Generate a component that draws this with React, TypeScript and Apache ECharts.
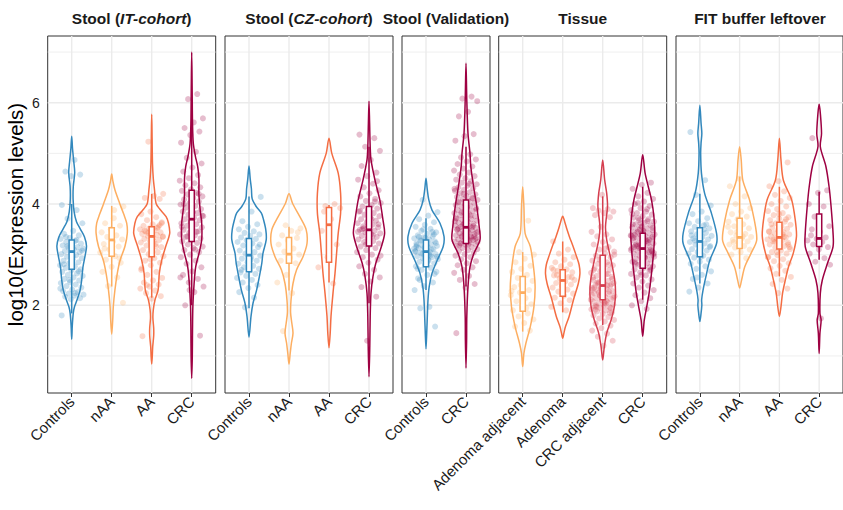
import React, { useEffect, useRef } from "react";
import * as echarts from "echarts";

// ---------- colours ----------
const BLUE = "#3288BD";
const LORANGE = "#FDAE61";
const ORANGE = "#F46D43";
const RED = "#D53E4F";
const CRIMSON = "#9E0142";

// ---------- categories ----------
const catsIT = ["Controls", "nAA", "AA", "CRC"];
const catsCZ = ["Controls", "nAA", "AA", "CRC"];
const catsVal = ["Controls", "CRC"];
const catsTissue = ["Adenoma adjacent", "Adenoma", "CRC adjacent", "CRC"];
const catsFIT = ["Controls", "nAA", "AA", "CRC"];

// ---------- y ticks ----------
const yTicks = [2, 4, 6];
const yMinor = [1, 3, 5, 7];

// ---------- violin profiles: [value, half-width (category units)] ----------
const vIT_Controls = [[1.33,0],[1.6,0.015],[1.85,0.04],[1.97,0.07],[2.1,0.13],[2.3,0.21],[2.5,0.25],[2.75,0.28],[3.0,0.34],[3.17,0.37],[3.35,0.32],[3.5,0.22],[3.65,0.12],[3.85,0.06],[4.1,0.035],[4.35,0.04],[4.62,0.075],[4.85,0.05],[5.1,0.02],[5.34,0]];
const vIT_nAA = [[1.43,0],[1.7,0.025],[1.97,0.04],[2.3,0.08],[2.63,0.14],[2.89,0.21],[3.16,0.33],[3.42,0.39],[3.62,0.375],[3.8,0.3],[4.01,0.2],[4.28,0.08],[4.45,0.03],[4.59,0]];
const vIT_AA = [[0.84,0],[1.0,0.015],[1.18,0.025],[1.4,0.05],[1.55,0.05],[1.75,0.03],[1.91,0.04],[2.1,0.08],[2.3,0.16],[2.63,0.19],[2.89,0.25],[3.16,0.35],[3.42,0.45],[3.62,0.42],[3.75,0.36],[3.9,0.2],[4.01,0.11],[4.28,0.07],[4.5,0.04],[4.8,0.02],[5.3,0.01],[5.77,0]];
const vIT_CRC = [[0.56,0],[1.0,0.015],[1.5,0.02],[2.0,0.03],[2.43,0.06],[2.76,0.1],[3.05,0.19],[3.3,0.25],[3.62,0.25],[3.9,0.21],[4.2,0.18],[4.5,0.18],[4.74,0.15],[4.95,0.09],[5.2,0.04],[5.6,0.02],[6.2,0.012],[7.0,0]];

const vCZ_Controls = [[1.37,0],[1.78,0.05],[2.04,0.1],[2.3,0.19],[2.57,0.26],[2.83,0.32],[3.03,0.35],[3.29,0.43],[3.49,0.42],[3.7,0.36],[3.82,0.31],[3.95,0.18],[4.1,0.08],[4.3,0.06],[4.5,0.03],[4.75,0]];
const vCZ_nAA = [[0.84,0],[1.05,0.03],[1.25,0.06],[1.45,0.1],[1.65,0.07],[1.85,0.04],[2.1,0.05],[2.43,0.1],[2.7,0.19],[2.96,0.35],[3.22,0.45],[3.49,0.43],[3.75,0.27],[4.01,0.09],[4.2,0]];
const vCZ_AA = [[1.16,0],[1.45,0.03],[1.78,0.05],[2.24,0.1],[2.63,0.15],[3.03,0.19],[3.42,0.23],[3.82,0.29],[4.21,0.29],[4.61,0.23],[5.0,0.07],[5.3,0]];
const vCZ_CRC = [[0.59,0],[1.2,0.02],[1.78,0.03],[2.24,0.05],[2.57,0.1],[2.83,0.17],[3.16,0.31],[3.42,0.39],[3.68,0.35],[4.08,0.27],[4.47,0.15],[4.87,0.05],[5.13,0.03],[5.6,0.015],[6.03,0]];

const vVal_Controls = [[1.14,0],[1.5,0.02],[1.71,0.03],[2.11,0.05],[2.37,0.08],[2.63,0.15],[2.89,0.28],[3.16,0.43],[3.36,0.45],[3.62,0.35],[3.88,0.15],[4.08,0.07],[4.3,0.03],[4.51,0]];
const vVal_CRC = [[0.76,0],[1.3,0.015],[1.78,0.02],[2.37,0.05],[2.76,0.1],[3.03,0.2],[3.29,0.35],[3.55,0.33],[3.95,0.27],[4.34,0.19],[4.74,0.12],[5.0,0.1],[5.39,0.05],[6.05,0.02],[6.78,0]];

const vT_AdAdj = [[0.79,0],[1.05,0.03],[1.25,0.08],[1.58,0.19],[1.97,0.28],[2.37,0.31],[2.76,0.27],[3.16,0.19],[3.42,0.06],[3.95,0.03],[4.34,0]];
const vT_Adenoma = [[1.35,0],[1.45,0.03],[1.58,0.07],[1.78,0.16],[2.11,0.27],[2.43,0.39],[2.62,0.43],[2.8,0.41],[3.0,0.33],[3.16,0.26],[3.35,0.17],[3.49,0.11],[3.65,0.05],[3.76,0]];
const vT_CRCadj = [[0.92,0],[1.18,0.04],[1.45,0.1],[1.71,0.21],[1.97,0.29],[2.24,0.32],[2.5,0.3],[2.89,0.21],[3.29,0.1],[3.55,0.07],[3.95,0.12],[4.21,0.1],[4.47,0.05],[4.87,0]];
const vT_CRC = [[1.39,0],[1.71,0.04],[1.97,0.1],[2.24,0.16],[2.63,0.22],[3.03,0.27],[3.42,0.3],[3.75,0.28],[4.08,0.22],[4.34,0.14],[4.61,0.06],[4.97,0]];

const vFIT_Controls = [[1.68,0],[1.84,0.03],[2.0,0.05],[2.11,0.045],[2.3,0.08],[2.63,0.17],[2.89,0.25],[3.22,0.42],[3.42,0.42],[3.82,0.29],[4.21,0.12],[4.61,0.04],[5.0,0.02],[5.2,0.03],[5.39,0.05],[5.6,0.03],[5.95,0]];
const vFIT_nAA = [[2.34,0],[2.5,0.05],[2.76,0.13],[3.03,0.29],[3.29,0.43],[3.68,0.37],[4.08,0.25],[4.47,0.08],[4.87,0.04],[5.13,0]];
const vFIT_AA = [[1.78,0],[1.97,0.04],[2.24,0.08],[2.5,0.15],[2.76,0.23],[3.03,0.35],[3.36,0.43],[3.68,0.4],[4.08,0.31],[4.47,0.1],[4.87,0.04],[5.3,0]];
const vFIT_CRC = [[1.05,0],[1.45,0.02],[1.71,0.05],[1.84,0.02],[2.24,0.03],[2.5,0.08],[2.83,0.21],[3.16,0.35],[3.42,0.35],[3.95,0.3],[4.34,0.25],[4.74,0.17],[5.13,0.03],[5.39,0.06],[5.79,0.03],[5.97,0]];

// ---------- box stats: [lower whisker, q1, median, q3, upper whisker] ----------
const boxIT = [[1.84,2.71,3.06,3.29,4.0],[2.37,2.97,3.29,3.53,3.96],[2.15,2.96,3.36,3.55,4.2],[2.0,3.26,3.7,4.27,5.66]];
const boxCZ = [[1.94,2.66,2.99,3.32,4.15],[2.29,2.83,3.01,3.34,3.55],[2.45,2.85,3.59,3.93,3.98],[2.04,3.17,3.49,3.95,5.13]];
const boxVal = [[2.3,2.76,3.06,3.29,3.72],[2.37,3.22,3.54,4.08,5.13]];
const boxTissue = [[1.48,1.88,2.25,2.57,3.05],[1.86,2.18,2.49,2.7,3.26],[1.61,2.11,2.39,2.99,4.15],[2.11,2.73,3.12,3.42,4.34]];
const boxFIT = [[2.43,2.96,3.26,3.53,4.2],[2.72,3.12,3.34,3.72,4.54],[2.57,3.11,3.34,3.64,4.34],[2.9,3.16,3.32,3.8,4.24]];

// ---------- individual samples (log10 expression) ----------
const pIT_Controls = [4.87,4.64,4.58,4.55,3.98,3.88,3.71,3.62,3.47,3.41,3.38,3.33,3.31,3.27,3.25,3.22,3.2,3.18,3.15,3.14,3.12,3.1,3.07,3.05,3.04,3.01,2.99,2.96,2.93,2.91,2.88,2.85,2.83,2.79,2.77,2.74,2.71,2.69,2.66,2.63,2.6,2.58,2.55,2.52,2.49,2.46,2.44,2.41,2.38,2.35,2.31,2.28,2.26,2.23,2.21,2.19,2.17,2.14,2.12,1.8,3.29,3.17,3.08,2.97,2.81,2.67,2.5,2.33,2.24,3.35];
const pIT_nAA = [3.95,3.88,3.62,3.57,3.5,3.44,3.38,3.35,3.3,3.26,3.21,3.16,3.1,3.04,2.97,2.9,2.84,2.76,2.66,2.55,2.38,2.05,3.72,3.12,2.93];
const pIT_AA = [5.23,4.2,4.16,4.12,4.1,3.85,3.8,3.74,3.68,3.64,3.6,3.57,3.55,3.52,3.5,3.48,3.46,3.44,3.42,3.41,3.39,3.37,3.35,3.33,3.31,3.29,3.27,3.24,3.21,3.18,3.15,3.12,3.09,3.05,3.01,2.97,2.93,2.88,2.84,2.79,2.73,2.66,2.6,2.54,2.49,2.45,2.41,2.37,2.33,2.29,2.24,2.18,2.13,1.39,3.53,3.43,3.36,3.26,3.47,3.58,2.91,2.7,3.16,2.4,3.62];
const pIT_CRC = [6.17,6.07,5.69,5.61,5.5,5.43,5.36,5.21,5.03,4.91,4.8,4.72,4.64,4.57,4.51,4.46,4.41,4.37,4.33,4.29,4.26,4.22,4.19,4.15,4.12,4.09,4.05,4.02,3.99,3.96,3.93,3.9,3.88,3.85,3.82,3.79,3.76,3.73,3.7,3.68,3.65,3.62,3.6,3.57,3.54,3.51,3.49,3.46,3.43,3.4,3.38,3.35,3.32,3.29,3.26,3.23,3.2,3.16,3.13,3.09,3.05,3.0,2.95,2.88,2.82,2.75,2.67,2.6,2.52,2.45,2.37,2.26,2.0,1.4,3.64,3.55,3.45,3.36,3.77,3.84,4.0,4.2,2.3,2.55,3.1];

const pCZ_Controls = [4.14,3.85,3.66,3.6,3.55,3.5,3.46,3.43,3.4,3.37,3.34,3.31,3.28,3.25,3.22,3.18,3.15,3.12,3.08,3.05,3.02,2.98,2.95,2.92,2.88,2.85,2.82,2.78,2.75,2.72,2.69,2.65,2.62,2.58,2.54,2.5,2.45,2.4,2.34,2.26,2.15,1.96,3.2,2.9,2.7];
const pCZ_nAA = [3.58,3.52,3.47,3.38,3.33,3.28,3.2,3.12,3.06,3.0,2.94,2.88,2.83,2.6,2.45,2.24,1.49,3.44];
const pCZ_AA = [4.0,3.96,3.92,3.7,3.47,3.2,2.95,2.75,2.43,3.85];
const pCZ_CRC = [5.37,5.3,5.13,5.05,4.87,4.75,4.62,4.55,4.48,4.4,4.33,4.27,4.21,4.15,4.1,4.06,4.02,3.98,3.95,3.91,3.88,3.85,3.82,3.79,3.76,3.73,3.7,3.67,3.64,3.62,3.59,3.56,3.54,3.51,3.49,3.47,3.44,3.42,3.4,3.37,3.35,3.32,3.3,3.27,3.25,3.22,3.19,3.16,3.13,3.09,3.05,3.0,2.95,2.9,2.84,2.77,2.7,2.62,2.55,2.47,2.36,2.17,1.3,3.45,3.38,3.52,3.6,3.3,3.86,4.05,3.2,2.98,3.7,3.5,4.45];

const pVal_Controls = [4.08,3.84,3.77,3.7,3.64,3.59,3.55,3.51,3.47,3.44,3.41,3.38,3.36,3.34,3.32,3.3,3.28,3.26,3.24,3.22,3.2,3.18,3.17,3.15,3.13,3.11,3.09,3.07,3.05,3.03,3.01,2.99,2.97,2.95,2.93,2.91,2.88,2.86,2.83,2.8,2.77,2.74,2.7,2.66,2.6,2.53,2.45,2.38,2.3,1.97,1.94,1.58,3.25,3.19,3.1,3.02,2.96,2.9,3.35,3.4,3.14,3.06,2.98,3.28,3.23,2.84,2.72,3.45,3.5,3.12,3.0,2.5,2.62,3.33,3.16];
const pVal_CRC = [6.12,6.08,6.03,5.82,5.73,5.38,5.34,5.25,4.98,4.92,4.88,4.84,4.79,4.74,4.7,4.66,4.62,4.58,4.55,4.51,4.48,4.45,4.42,4.39,4.36,4.33,4.31,4.28,4.26,4.23,4.21,4.19,4.16,4.14,4.12,4.1,4.08,4.06,4.04,4.02,4.0,3.98,3.96,3.94,3.92,3.9,3.88,3.86,3.84,3.82,3.8,3.78,3.76,3.74,3.72,3.7,3.69,3.67,3.65,3.63,3.61,3.6,3.58,3.56,3.55,3.53,3.51,3.5,3.48,3.47,3.45,3.44,3.42,3.41,3.39,3.38,3.36,3.35,3.33,3.32,3.3,3.29,3.27,3.26,3.24,3.23,3.21,3.19,3.17,3.15,3.13,3.11,3.09,3.07,3.04,3.01,2.98,2.95,2.91,2.87,2.83,2.79,2.75,2.7,2.64,2.58,2.5,2.42,2.35,1.45,3.34,3.37,3.43,3.46,3.52,3.57,3.62,3.66,3.28,3.22,3.31,3.4,3.49,3.54,3.59,3.25,3.2,3.18,3.36,3.44,3.71,3.77,3.83,3.89,3.95,4.03,4.11,4.2,4.3,4.4];

const pT_AdAdj = [3.67,3.05,3.0,2.92,2.85,2.78,2.72,2.66,2.6,2.54,2.48,2.42,2.36,2.3,2.25,2.2,2.14,2.08,2.02,1.96,1.9,1.84,1.78,1.72,1.65,1.58,1.5,2.4,2.28,1.95];
const pT_Adenoma = [3.26,3.1,3.02,2.95,2.9,2.85,2.81,2.77,2.74,2.71,2.68,2.65,2.62,2.59,2.56,2.53,2.5,2.47,2.44,2.41,2.38,2.35,2.31,2.27,2.23,2.19,2.15,2.1,2.04,1.97,1.9,2.6,2.55,2.45,2.7];
const pT_CRCadj = [4.18,3.92,3.9,3.87,3.85,3.82,3.78,3.74,3.55,3.45,3.4,3.36,3.3,3.25,3.2,3.15,3.1,3.06,3.02,2.98,2.95,2.92,2.88,2.85,2.82,2.79,2.76,2.73,2.7,2.67,2.64,2.61,2.58,2.56,2.53,2.5,2.48,2.46,2.44,2.42,2.4,2.38,2.36,2.34,2.32,2.3,2.28,2.26,2.24,2.22,2.2,2.18,2.16,2.14,2.12,2.1,2.08,2.06,2.04,2.02,2.0,1.98,1.96,1.94,1.92,1.9,1.88,1.86,1.83,1.8,1.77,1.74,1.71,1.68,1.64,1.6,1.55,1.5,1.44,1.38,1.3,1.2,2.35,2.27,2.19,2.11,2.03,1.97,2.41,2.49,2.55,2.62,2.25,2.15,2.05,1.91,1.85,2.33,2.21,2.09,2.45,2.52,2.6,2.7,2.8,2.9,3.0,3.12,2.0,1.95,2.23,2.31,2.39,2.43];
const pT_CRC = [4.42,4.38,4.3,4.22,4.15,4.1,4.05,4.0,3.96,3.92,3.88,3.85,3.82,3.79,3.76,3.73,3.7,3.68,3.65,3.63,3.6,3.58,3.56,3.54,3.52,3.5,3.48,3.46,3.44,3.42,3.4,3.38,3.36,3.34,3.32,3.3,3.28,3.26,3.24,3.22,3.2,3.18,3.16,3.14,3.12,3.1,3.08,3.06,3.04,3.02,3.0,2.98,2.96,2.94,2.92,2.9,2.88,2.86,2.83,2.8,2.77,2.74,2.71,2.68,2.65,2.62,2.59,2.55,2.51,2.47,2.43,2.39,2.35,2.3,2.25,2.2,2.14,2.08,2.0,1.93,3.45,3.35,3.25,3.15,3.05,3.5,3.4,3.3,3.2,3.1,3.55,3.6,3.66,3.72,3.0,2.95,2.85,2.75,3.62,3.37,3.27,3.17,3.07,3.43,3.33,3.23,3.13,3.03,2.93,2.82,2.7,2.6,3.8,3.9,4.02,3.53,3.47,3.39,3.29,3.19,3.09];

const pFIT_Controls = [5.42,4.47,4.18,3.97,3.85,3.8,3.72,3.66,3.62,3.58,3.55,3.52,3.49,3.46,3.43,3.4,3.37,3.35,3.32,3.3,3.27,3.25,3.22,3.2,3.17,3.14,3.11,3.08,3.05,3.02,2.98,2.94,2.9,2.86,2.82,2.77,2.72,2.67,2.6,2.52,2.43,2.35,2.27,3.5,3.28,3.15,2.95,3.38,3.6,2.55];
const pFIT_nAA = [4.5,4.35,4.15,4.0,3.92,3.85,3.8,3.75,3.7,3.65,3.6,3.56,3.52,3.48,3.44,3.41,3.38,3.35,3.32,3.29,3.26,3.23,3.2,3.17,3.14,3.1,3.05,3.0,2.93,3.45,3.55,3.36,3.25];
const pFIT_AA = [4.82,4.45,4.35,4.25,4.18,4.12,4.06,4.0,3.95,3.9,3.86,3.82,3.78,3.74,3.71,3.68,3.65,3.62,3.59,3.56,3.53,3.51,3.48,3.46,3.44,3.42,3.4,3.38,3.36,3.34,3.32,3.3,3.28,3.26,3.24,3.22,3.2,3.17,3.14,3.11,3.08,3.05,3.02,2.99,2.95,2.91,2.87,2.83,2.78,2.73,2.68,2.62,2.56,2.5,2.42,2.33,2.24,3.45,3.35,3.25,3.15,3.5,3.6,3.7,3.05,2.95,3.4,3.3,3.2,3.8];
const pFIT_CRC = [5.3,4.27,4.22,4.0,3.95,3.75,3.56,3.45,3.38,3.34,3.31,3.28,3.25,3.2,3.15,3.1,3.02,2.93,2.86,2.8,1.74,3.5];

// ---------- panel assembly ----------
const panels = [
  { title: "{b|Stool (}{bi|IT-cohort}{b|)}", cats: catsIT, colors: [BLUE, LORANGE, ORANGE, CRIMSON],
    violins: [vIT_Controls, vIT_nAA, vIT_AA, vIT_CRC], boxes: boxIT, points: [pIT_Controls, pIT_nAA, pIT_AA, pIT_CRC] },
  { title: "{b|Stool (}{bi|CZ-cohort}{b|)}", cats: catsCZ, colors: [BLUE, LORANGE, ORANGE, CRIMSON],
    violins: [vCZ_Controls, vCZ_nAA, vCZ_AA, vCZ_CRC], boxes: boxCZ, points: [pCZ_Controls, pCZ_nAA, pCZ_AA, pCZ_CRC] },
  { title: "{b|Stool (Validation)}", cats: catsVal, colors: [BLUE, CRIMSON],
    violins: [vVal_Controls, vVal_CRC], boxes: boxVal, points: [pVal_Controls, pVal_CRC] },
  { title: "{b|Tissue}", cats: catsTissue, colors: [LORANGE, ORANGE, RED, CRIMSON],
    violins: [vT_AdAdj, vT_Adenoma, vT_CRCadj, vT_CRC], boxes: boxTissue, points: [pT_AdAdj, pT_Adenoma, pT_CRCadj, pT_CRC] },
  { title: "{b|FIT buffer leftover}", cats: catsFIT, colors: [BLUE, LORANGE, ORANGE, CRIMSON],
    violins: [vFIT_Controls, vFIT_nAA, vFIT_AA, vFIT_CRC], boxes: boxFIT, points: [pFIT_Controls, pFIT_nAA, pFIT_AA, pFIT_CRC] },
];

// ---------- layout ----------
const FONT = "Liberation Sans, Arial, Helvetica, sans-serif";
const PANEL_LEFT = [47.7, 225, 402, 498.7, 676];
const UNIT = 40;
const TOP = 36;
const HEIGHT = 357;
const Y_MIN = 0.268;
const Y_MAX = 7.317;
const GRID_COL = "#EBEBEB";
const TITLE_SIZE = 15.5;

const jitter = (k: number, g: number) => ((((k + 1) * 0.6180339887 + g * 0.371) % 1) - 0.5) * 0.6;

function buildOption() {
  const grid: any[] = [];
  const xAxis: any[] = [];
  const yAxis: any[] = [];
  const series: any[] = [];
  const graphic: any[] = [];

  panels.forEach((p, pi) => {
    const n = p.cats.length;
    const width = (n + 0.2) * UNIT;
    const idx = p.cats.map((_, i) => i);
    grid.push({ left: PANEL_LEFT[pi], top: TOP, width, height: HEIGHT, show: true,
      borderColor: "#333333", borderWidth: 1, backgroundColor: "#ffffff", containLabel: false });
    xAxis.push({
      gridIndex: pi, type: "value", min: -0.6, max: n - 0.4,
      axisLine: { show: false }, splitLine: { show: false },
      axisTick: { show: true, customValues: idx, length: 4, lineStyle: { color: "#333333", width: 1 } },
      axisLabel: { show: true, customValues: idx, rotate: 45, margin: 6, fontSize: 15, color: "#1a1a1a", fontFamily: FONT,
        formatter: (v: number) => p.cats[Math.round(v)] ?? "" },
    });
    yAxis.push({
      gridIndex: pi, type: "value", min: Y_MIN, max: Y_MAX,
      axisLine: { show: false }, splitLine: { show: false },
      axisTick: { show: pi === 0, customValues: yTicks, length: 4, lineStyle: { color: "#333333", width: 1 } },
      axisLabel: { show: pi === 0, customValues: yTicks, margin: 8, fontSize: 14, color: "#1a1a1a", fontFamily: FONT },
      name: pi === 0 ? "log10(Expression levels)" : "",
      nameLocation: "middle", nameGap: 22, nameRotate: 90,
      nameTextStyle: { fontSize: 20.5, color: "#000000", fontFamily: FONT },
    });

    // background grid lines
    series.push({
      type: "custom", xAxisIndex: pi, yAxisIndex: pi, z: 1, silent: true, clip: false,
      data: [[0, 0]],
      renderItem: (params: any, api: any) => {
        const cs = params.coordSys;
        const children: any[] = [];
        yMinor.forEach((v) => {
          const y = api.coord([0, v])[1];
          children.push({ type: "line", shape: { x1: cs.x, y1: y, x2: cs.x + cs.width, y2: y }, style: { stroke: GRID_COL, lineWidth: 0.8 } });
        });
        yTicks.forEach((v) => {
          const y = api.coord([0, v])[1];
          children.push({ type: "line", shape: { x1: cs.x, y1: y, x2: cs.x + cs.width, y2: y }, style: { stroke: GRID_COL, lineWidth: 1.4 } });
        });
        idx.forEach((i) => {
          const x = api.coord([i, 0])[0];
          children.push({ type: "line", shape: { x1: x, y1: cs.y, x2: x, y2: cs.y + cs.height }, style: { stroke: GRID_COL, lineWidth: 1.4 } });
        });
        return { type: "group", children };
      },
    });

    // violins
    series.push({
      type: "custom", xAxisIndex: pi, yAxisIndex: pi, z: 2, silent: true, clip: false,
      data: idx.map((i) => [i, 0]),
      renderItem: (params: any, api: any) => {
        const gi = api.value(0);
        const prof = p.violins[gi];
        const right = prof.map(([y, w]: number[]) => api.coord([gi + w, y]));
        const left = prof.slice(1, -1).reverse().map(([y, w]: number[]) => api.coord([gi - w, y]));
        return {
          type: "polygon",
          shape: { points: right.concat(left), smooth: 0.3 },
          style: { fill: "none", stroke: p.colors[gi], lineWidth: 1.5 },
        };
      },
    });

    // jittered points
    p.points.forEach((pts, gi) => {
      series.push({
        type: "scatter", xAxisIndex: pi, yAxisIndex: pi, z: 3, silent: true,
        symbol: "circle", symbolSize: 6,
        itemStyle: { color: p.colors[gi], opacity: 0.26 },
        data: pts.map((y, k) => [gi + jitter(k, gi + pi), y]),
      });
    });

    // boxes
    series.push({
      type: "custom", xAxisIndex: pi, yAxisIndex: pi, z: 4, silent: true, clip: false,
      data: idx.map((i) => [i, 0]),
      renderItem: (params: any, api: any) => {
        const gi = api.value(0);
        const [lo, q1, med, q3, hi] = p.boxes[gi];
        const c = p.colors[gi];
        const hw = 0.065;
        const cx = api.coord([gi, med])[0];
        const tl = api.coord([gi - hw, q3]);
        const br = api.coord([gi + hw, q1]);
        const yMed = api.coord([gi, med])[1];
        return {
          type: "group",
          children: [
            { type: "line", shape: { x1: cx, y1: api.coord([gi, hi])[1], x2: cx, y2: tl[1] }, style: { stroke: c, lineWidth: 1.5 } },
            { type: "line", shape: { x1: cx, y1: br[1], x2: cx, y2: api.coord([gi, lo])[1] }, style: { stroke: c, lineWidth: 1.5 } },
            { type: "rect", shape: { x: tl[0], y: tl[1], width: br[0] - tl[0], height: br[1] - tl[1] }, style: { fill: "#ffffff", stroke: c, lineWidth: 1.5 } },
            { type: "line", shape: { x1: tl[0], y1: yMed, x2: br[0], y2: yMed }, style: { stroke: c, lineWidth: 2.8 } },
          ],
        };
      },
    });

    graphic.push({
      type: "text", x: PANEL_LEFT[pi] + width / 2, y: 18.5, z: 10,
      style: {
        text: p.title, align: "center", verticalAlign: "middle", fill: "#1a1a1a",
        fontFamily: FONT, fontSize: TITLE_SIZE, fontWeight: "bold",
        rich: {
          b: { fontFamily: FONT, fontSize: TITLE_SIZE, fontWeight: "bold", fill: "#1a1a1a" },
          bi: { fontFamily: FONT, fontSize: TITLE_SIZE, fontWeight: "bold", fontStyle: "italic", fill: "#1a1a1a" },
        },
      },
    });
  });

  return {
    animation: false,
    backgroundColor: "#ffffff",
    textStyle: { fontFamily: FONT },
    grid, xAxis, yAxis, series, graphic,
  };
}

export default function App() {
  const ref = useRef<HTMLDivElement>(null);
  useEffect(() => {
    if (!ref.current) return;
    const chart = echarts.init(ref.current, null, { renderer: "svg" });
    chart.setOption(buildOption() as any);
    return () => chart.dispose();
  }, []);
  return <div ref={ref} style={{ position: "absolute", left: 0, top: 0, width: 843, height: 510 }} />;
}
